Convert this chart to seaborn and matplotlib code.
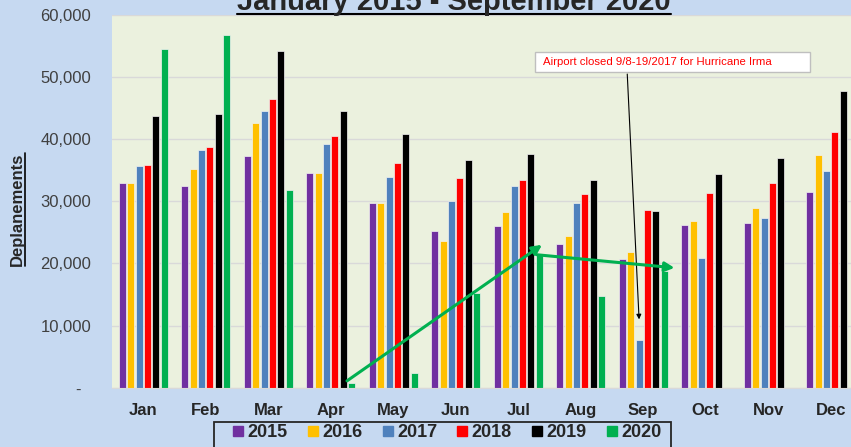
import matplotlib
matplotlib.use('Agg')
import matplotlib.pyplot as plt
import numpy as np
import pandas as pd
import seaborn as sns
from matplotlib.lines import Line2D
from matplotlib.patches import Rectangle
from matplotlib.ticker import FuncFormatter, MultipleLocator, FixedLocator

# dados (deplanements por mes)
months = ['Jan', 'Feb', 'Mar', 'Apr', 'May', 'Jun',
          'Jul', 'Aug', 'Sep', 'Oct', 'Nov', 'Dec']
years = ['2015', '2016', '2017', '2018', '2019', '2020']

dep_2015 = [32900, 32500, 37300, 34500, 29800, 25200, 26000, 23100, 20700, 26200, 26500, 31500]
dep_2016 = [33000, 35200, 42600, 34600, 29700, 23600, 28300, 24500, 21900, 26900, 28900, 37400]
dep_2017 = [35700, 38300, 44600, 39300, 34000, 30100, 32500, 29700, 7700, 20800, 27300, 34900]
dep_2018 = [35800, 38700, 46500, 40600, 36100, 33700, 33500, 31200, 28600, 31400, 32900, 41100]
dep_2019 = [43800, 44100, 54200, 44500, 40900, 36600, 37700, 33500, 28500, 34400, 36900, 47700]
dep_2020 = [54600, 56800, 31800, 800, 2400, 15300, 21300, 14800, 18800]

colors = ['#7030A0', '#FFC000', '#4F81BD', '#FF0000', '#000000', '#00B050']

FIG_BG = '#C6D9F1'
PLOT_BG = '#EBF1DE'
GRID = '#D9D9D9'

rows = []
for yr, vals in zip(years, [dep_2015, dep_2016, dep_2017, dep_2018, dep_2019, dep_2020]):
    for m, v in zip(months, vals):
        rows.append((m, yr, v))
df = pd.DataFrame(rows, columns=['month', 'year', 'deplanements'])

sns.set_style('white')
plt.rcParams['font.family'] = ['Liberation Sans', 'DejaVu Sans']

W, H = 851, 447
fig = plt.figure(figsize=(W / 100, H / 100), dpi=100, facecolor=FIG_BG)
ax = fig.add_axes([112 / W, 59.3 / H, 750 / W, 372.7 / H])
ax.set_facecolor(PLOT_BG)

sns.barplot(data=df, x='month', y='deplanements', hue='year',
            order=months, hue_order=years, palette=colors, saturation=1,
            width=0.8, gap=0.15, errorbar=None,
            edgecolor='#F2F2F2', linewidth=0.5, legend=False, ax=ax)

ax.set_xlim(-0.5, 11.5)
ax.set_ylim(0, 60000)
ax.yaxis.set_major_locator(MultipleLocator(10000))
ax.yaxis.set_major_formatter(FuncFormatter(lambda v, p: '-  ' if v == 0 else f'{v:,.0f}'))
ax.tick_params(axis='y', length=0, pad=15, labelsize=12, labelcolor='#404040')
ax.tick_params(axis='x', length=0, pad=11, labelsize=12)
for lbl in ax.get_xticklabels():
    lbl.set_fontweight('bold')
ax.xaxis.set_minor_locator(FixedLocator(np.arange(-0.5, 12, 1)))
ax.tick_params(axis='x', which='minor', length=4, color=GRID)
ax.grid(axis='y', color=GRID, lw=1)
ax.set_axisbelow(True)
for s in ['left', 'top', 'right']:
    ax.spines[s].set_visible(False)
ax.spines['bottom'].set_color(GRID)
ax.set_xlabel('')
ax.set_ylabel('')

# titulo sublinhado (cortado no topo como no original)
fig.text(454 / W, 1 - 10 / H, 'January 2015 - September 2020', ha='center', va='baseline',
         fontsize=21, fontweight='bold')
fig.add_artist(Line2D([237 / W, 671 / W], [1 - 13.5 / H] * 2, transform=fig.transFigure,
                      color='black', lw=1.5))

# rotulo do eixo y sublinhado
fig.text(17 / W, 1 - 209 / H, 'Deplanements', rotation=90, ha='center', va='center',
         fontsize=12, fontweight='bold')
fig.add_artist(Line2D([25 / W] * 2, [1 - 153 / H, 1 - 266 / H], transform=fig.transFigure,
                      color='black', lw=1.2))

# nota do furacao
fig.add_artist(Rectangle((535 / W, 1 - 72 / H), 275 / W, 20 / H, transform=fig.transFigure,
                         facecolor='white', edgecolor='#BFBFBF', lw=1))
fig.text(543 / W, 1 - 62 / H, 'Airport closed 9/8-19/2017 for Hurricane Irma',
         ha='left', va='center', fontsize=8.2, color='#FF0000')

sep_2017 = ax.containers[2].patches[8]
tx = sep_2017.get_x() + sep_2017.get_width() / 2
ax.annotate('', xy=(tx, sep_2017.get_height() + 3300), xytext=(7.744, 50500),
            arrowprops=dict(arrowstyle='-|>', color='black', lw=0.8,
                            mutation_scale=7, shrinkA=0, shrinkB=0))

# setas verdes de recuperacao
green_arrows = [((3.26, 1100), (6.38, 23000)), ((6.30, 21400), (8.50, 19300))]
for start, end in green_arrows:
    ax.annotate('', xy=end, xytext=start,
                arrowprops=dict(arrowstyle='-|>', color='#00B050', lw=2.2,
                                mutation_scale=14, shrinkA=0, shrinkB=0))

# legenda
handles = [Line2D([], [], marker='s', linestyle='none', color=c, markersize=7.2) for c in colors]
fig.legend(handles, years, loc='upper left', bbox_to_anchor=(232.6 / W, 1 - 424 / H),
           ncol=6, frameon=False, prop=dict(weight='bold', size=13),
           handlelength=0.6, handletextpad=0.22, columnspacing=1.1, borderpad=0,
           borderaxespad=0)
fig.add_artist(Rectangle((214 / W, -0.05), (671 - 214) / W, 0.05 + (1 - 421.7 / H),
                         transform=fig.transFigure, fill=False, edgecolor='#262626', lw=1.3))

fig.savefig('out.png', dpi=100, facecolor=fig.get_facecolor())
